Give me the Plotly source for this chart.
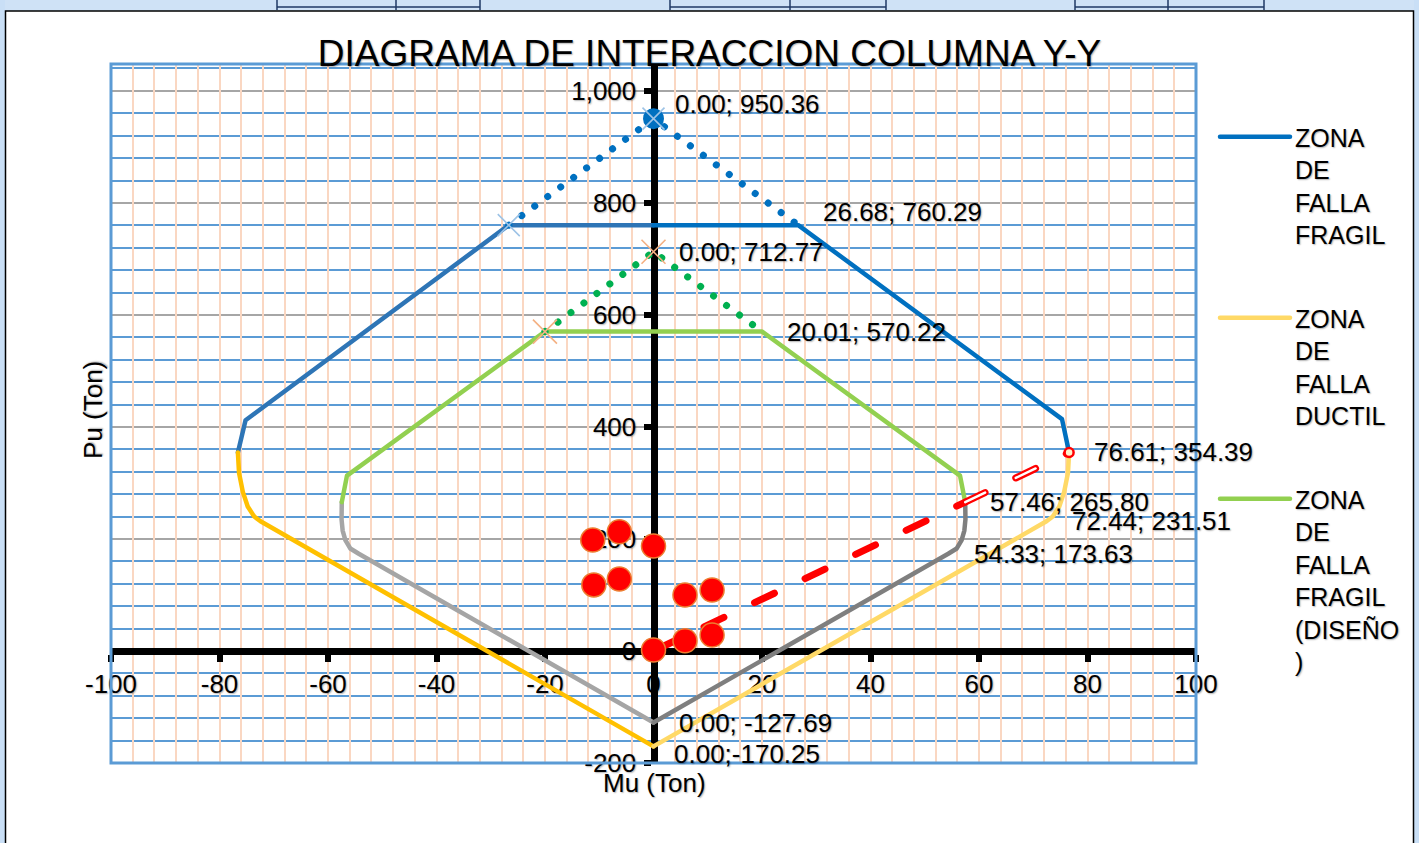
import plotly.graph_objects as go

# ---------------- data ----------------
x_tick_vals = [-100, -80, -60, -40, -20, 0, 20, 40, 60, 80, 100]
x_tick_text = ["-100", "-80", "-60", "-40", "-20", "0", "20", "40", "60", "80", "100"]
y_tick_vals = [-200, 0, 200, 400, 600, 800, 1000]
y_tick_text = ["-200", "0", "200", "400", "600", "800", "1,000"]
x_minor_step = 4
y_minor_step = 40

# Nominal diagram - brittle failure zone (blue)
frag_left_mu = [-76.61, -75.2, -26.68, 0.0]
frag_left_pu = [354.39, 412.0, 760.29, 760.29]
frag_right_mu = [0.0, 26.68, 75.3, 76.61]
frag_right_pu = [760.29, 760.29, 414.0, 354.39]

# Nominal diagram - ductile failure zone (yellow)
duct_left_mu = [-76.61, -76.4, -75.7, -74.8, -73.6, -72.44, 0.0]
duct_left_pu = [354.39, 318.0, 284.0, 258.0, 240.0, 231.51, -170.25]
duct_right_mu = [76.61, 76.4, 75.7, 74.8, 73.6, 72.44, 0.0]
duct_right_pu = [354.39, 318.0, 284.0, 258.0, 240.0, 231.51, -170.25]

# Design diagram - brittle zone (green)
dis_frag_mu = [-57.46, -56.5, -20.01, 20.01, 56.5, 57.46]
dis_frag_pu = [265.80, 313.0, 570.22, 570.22, 313.0, 265.80]

# Design diagram - ductile zone (gray)
dis_duct_left_mu = [-57.46, -57.5, -57.3, -56.8, -55.9, -54.33, 0.0]
dis_duct_left_pu = [265.80, 235.0, 215.0, 198.0, 183.0, 173.63, -127.69]
dis_duct_right_mu = [57.46, 57.5, 57.3, 56.8, 55.9, 54.33, 0.0]
dis_duct_right_pu = [265.80, 235.0, 215.0, 198.0, 183.0, 173.63, -127.69]

# Pure compression caps (dotted)
cap_nom_mu = [-26.68, 0.0, 26.68]
cap_nom_pu = [760.29, 950.36, 760.29]
cap_dis_mu = [-20.01, 0.0, 20.01]
cap_dis_pu = [570.22, 712.77, 570.22]

# Load line (balanced point)
load_dis_mu = [0.0, 57.46]
load_dis_pu = [0.0, 265.80]
load_nom_mu = [57.46, 76.61]
load_nom_pu = [265.80, 354.39]

# Acting loads (Mu, Pu)
act_mu = [-11.2, -6.3, 0.0, -11.0, -6.3, 5.8, 10.8, 0.0, 5.8, 10.8]
act_pu = [198.0, 213.0, 187.5, 118.0, 128.6, 100.0, 109.0, 1.8, 18.4, 28.6]

# Labelled points
lab_mu = [0.00, 26.68, 0.00, 20.01, 76.61, 57.46, 72.44, 54.33, 0.00, 0.00]
lab_pu = [950.36, 760.29, 712.77, 570.22, 354.39, 265.80, 231.51, 173.63, -127.69, -170.25]
lab_text = ["0.00; 950.36", "26.68; 760.29", "0.00; 712.77", "20.01; 570.22",
            "76.61; 354.39", "57.46; 265.80", "72.44; 231.51", "54.33; 173.63",
            "0.00; -127.69", "0.00;-170.25"]
lab_dx = [19, 23, 23, 23, 23, 23, 24, 24, 23, 18]
lab_dy = [15, 13, 0, 0, 0, 0, 0, 0, 0, -8]

# ---------------- layout geometry ----------------
W, H = 1419, 843
L, R, T, B = 111, 1196, 64, 763
PW, PH = R - L, B - T

def fx(p):
    return (p - L) / PW

def fy(p):
    return (B - p) / PH

FONT = "Liberation Sans, Arial, sans-serif"

fig = go.Figure()

# carrier for the vertical grid axis
fig.add_trace(go.Scatter(x=[], y=[], xaxis="x2", yaxis="y", showlegend=False, hoverinfo="skip"))

def line(mu, pu, color, width=4.5, name=None, show=False, group=None, dash=None, rank=1000):
    fig.add_trace(go.Scatter(
        x=mu, y=pu, mode="lines", name=name, showlegend=show,
        legendgroup=group, legendrank=rank,
        line=dict(color=color, width=width, dash=dash),
        hoverinfo="skip"))

line(frag_left_mu, frag_left_pu, "#2E75B6")
line(duct_left_mu, duct_left_pu, "#FFC000")
line(dis_duct_left_mu, dis_duct_left_pu, "#A5A5A5")
line(dis_duct_right_mu, dis_duct_right_pu, "#7F7F7F")
line(duct_right_mu, duct_right_pu, "#FFD966", name="ZONA<br>DE<br>FALLA<br>DUCTIL",
     show=True, group="g2", rank=2)
line(frag_right_mu, frag_right_pu, "#0070C0", name="ZONA<br>DE<br>FALLA<br>FRAGIL",
     show=True, group="g1", rank=1)
line(dis_frag_mu, dis_frag_pu, "#92D050", name="ZONA<br>DE<br>FALLA<br>FRAGIL<br>(DISEÑO<br>)",
     show=True, group="g3", rank=3)

# dotted caps
line(cap_nom_mu, cap_nom_pu, "#0070C0", width=7, dash="0.1px,16px")
line(cap_dis_mu, cap_dis_pu, "#00B050", width=7, dash="0.1px,16px")

# load line
line(load_dis_mu, load_dis_pu, "#FF0000", width=7, dash="22px,34px")
line(load_nom_mu, load_nom_pu, "#FF0000", width=7, dash="22px,34px")
line(load_nom_mu, load_nom_pu, "#FFFFFF", width=2.5, dash="22px,34px")
fig.add_trace(go.Scatter(x=[load_nom_mu[-1]], y=[load_nom_pu[-1]], mode="markers",
                         showlegend=False, hoverinfo="skip",
                         marker=dict(size=9, color="#FFF2CC", line=dict(color="#FF0000", width=2.5))))

# cap markers
fig.add_trace(go.Scatter(x=[cap_nom_mu[1]], y=[cap_nom_pu[1]], mode="markers", showlegend=False,
                         hoverinfo="skip", marker=dict(size=21, color="#0070C0")))
fig.add_trace(go.Scatter(x=[cap_nom_mu[1], cap_nom_mu[0]], y=[cap_nom_pu[1], cap_nom_pu[0]],
                         mode="markers", showlegend=False, hoverinfo="skip",
                         marker=dict(symbol="x-thin", size=22, line=dict(color="#9DC3E6", width=1.6))))
fig.add_trace(go.Scatter(x=[cap_dis_mu[1], cap_dis_mu[0]], y=[cap_dis_pu[1], cap_dis_pu[0]],
                         mode="markers", showlegend=False, hoverinfo="skip",
                         marker=dict(symbol="x-thin", size=24, line=dict(color="#F4B183", width=1.6))))

# acting loads
fig.add_trace(go.Scatter(x=act_mu, y=act_pu, mode="markers", showlegend=False, hoverinfo="skip",
                         marker=dict(size=24, color="#FF0000", line=dict(color="#ED7D31", width=1.5))))

# data labels
for mu, pu, txt, dx, dy in zip(lab_mu, lab_pu, lab_text, lab_dx, lab_dy):
    fig.add_annotation(x=mu, y=pu, xref="x", yref="y", text=txt, showarrow=False,
                       xanchor="left", yanchor="middle", xshift=dx, yshift=dy,
                       font=dict(family=FONT, size=26, color="#000000"))

# axis titles
fig.add_annotation(x=fx(93), y=fy(410), xref="paper", yref="paper", text="Pu (Ton)",
                   xanchor="center", yanchor="middle",
                   textangle=-90, showarrow=False, font=dict(family=FONT, size=26, color="#000"))
fig.add_annotation(x=fx(654), y=fy(783), xref="paper", yref="paper", text="Mu (Ton)",
                   xanchor="center", yanchor="middle",
                   showarrow=False, font=dict(family=FONT, size=26, color="#000"))

# ---------------- decorations (sheet frame) ----------------
shapes = []
shapes.append(dict(type="rect", xref="paper", yref="paper", x0=0, x1=1, y0=0, y1=1,
                   line=dict(color="#5B9BD5", width=3), layer="above"))
shapes.append(dict(type="rect", xref="paper", yref="paper", x0=fx(0), x1=fx(W), y0=fy(11), y1=fy(0),
                   fillcolor="#CFE2F6", line=dict(width=0), layer="below"))
shapes.append(dict(type="rect", xref="paper", yref="paper", x0=fx(0), x1=fx(5), y0=fy(H), y1=fy(0),
                   fillcolor="#C9DFF6", line=dict(width=0), layer="below"))
shapes.append(dict(type="rect", xref="paper", yref="paper", x0=fx(1414), x1=fx(W), y0=fy(H), y1=fy(0),
                   fillcolor="#C9DFF6", line=dict(width=0), layer="below"))
for x0, x1 in [(277, 480), (670, 886), (1075, 1264)]:
    shapes.append(dict(type="line", xref="paper", yref="paper", x0=fx(x0), x1=fx(x1), y0=fy(7), y1=fy(7),
                       line=dict(color="#1F3864", width=1.5)))
for xv in [277, 396, 480, 670, 790, 886, 1075, 1168, 1264]:
    shapes.append(dict(type="line", xref="paper", yref="paper", x0=fx(xv), x1=fx(xv), y0=fy(10), y1=fy(0),
                       line=dict(color="#1F3864", width=1.5)))
shapes.append(dict(type="rect", xref="paper", yref="paper", x0=fx(5.5), x1=fx(1413.5), y0=fy(H + 5), y1=fy(11),
                   line=dict(color="#000000", width=1.5)))

x_minor_vals = list(range(x_tick_vals[0], x_tick_vals[-1] + 1, x_minor_step))
y_minor_vals = list(range(y_tick_vals[0], 1041, y_minor_step))

fig.update_layout(
    width=W, height=H,
    margin=dict(l=L, r=W - R, t=T, b=H - B, pad=0),
    paper_bgcolor="#FFFFFF", plot_bgcolor="#FFFFFF",
    font=dict(family=FONT, color="#000000"),
    title=dict(text="DIAGRAMA DE INTERACCION COLUMNA Y-Y", x=0.5, xref="container", xanchor="center",
               y=1 - 53 / H, yref="container", yanchor="middle",
               font=dict(family=FONT, size=37, color="#000000")),
    xaxis=dict(range=[-100, 100], anchor="free", position=200 / 1248,
               tickmode="array", tickvals=x_tick_vals, ticktext=x_tick_text,
               showline=True, linecolor="#000000", linewidth=7,
               ticks="outside", ticklen=7, tickwidth=6, tickcolor="#000000",
               tickfont=dict(family=FONT, size=26, color="#000"), ticklabelstandoff=0,
               showgrid=False, zeroline=False,
               layer="below traces", fixedrange=True),
    xaxis2=dict(range=[-100, 100], overlaying="x", anchor="y", side="bottom",
                tickmode="array", tickvals=x_minor_vals, showticklabels=False, ticks="",
                showline=False, zeroline=False,
                showgrid=True, gridcolor="#FAD7C2", gridwidth=1.6,
                layer="below traces", fixedrange=True),
    yaxis=dict(range=[-200, 1048], anchor="free", position=0.5,
               tickmode="array", tickvals=y_tick_vals, ticktext=y_tick_text,
               showline=True, linecolor="#000000", linewidth=7,
               ticks="outside", ticklen=7, tickwidth=6, tickcolor="#000000",
               tickfont=dict(family=FONT, size=26, color="#000"), ticklabelstandoff=2,
               showgrid=True, gridcolor="#A6A6A6", gridwidth=2, zeroline=False,
               minor=dict(tickmode="array", tickvals=y_minor_vals, showgrid=True,
                          gridcolor="#5B9BD5", gridwidth=2, ticks=""),
               layer="below traces", fixedrange=True),
    legend=dict(x=fx(1215), y=fy(114), xanchor="left", yanchor="top", xref="paper", yref="paper",
                font=dict(family=FONT, size=25, color="#000000"), tracegroupgap=48,
                traceorder="grouped", itemwidth=70, valign="top", bgcolor="rgba(0,0,0,0)"),
    shapes=shapes,
    showlegend=True,
)

post = """
document.body.style.margin='0';
document.body.style.overflow='hidden';
var gd = document.getElementById('{plot_id}');
gd.querySelectorAll('path.js-line').forEach(function(p){ p.style.strokeLinecap='round'; p.style.strokeLinejoin='round'; });
gd.querySelectorAll('text').forEach(function(t){ t.style.textShadow='1px 1px 1.5px rgba(0,0,0,0.30)'; });
"""
fig.write_html("out.html", post_script=post, config={"displayModeBar": False})
